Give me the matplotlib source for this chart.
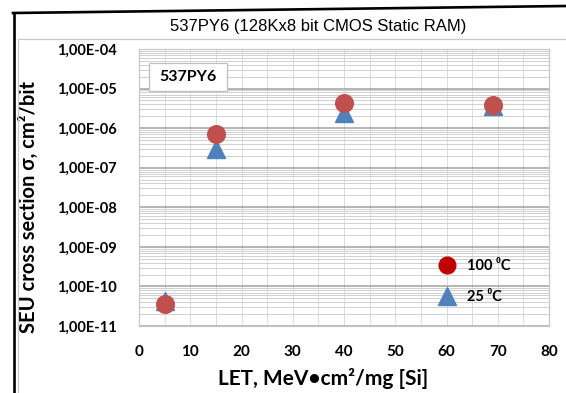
import matplotlib
matplotlib.use('Agg')
import matplotlib.pyplot as plt
import numpy as np
from matplotlib.lines import Line2D
from matplotlib.patches import Rectangle
from matplotlib.ticker import FixedLocator, FuncFormatter, LogLocator, MultipleLocator

plt.rcParams['font.family'] = ['Lato', 'DejaVu Sans']

# data
let = [5, 15, 40, 69]
sigma_100 = [3.5e-11, 7.3e-7, 4.3e-6, 3.9e-6]
sigma_25 = [4.2e-11, 3.0e-7, 2.4e-6, 3.6e-6]
y_decades = [-11, -10, -9, -8, -7, -6, -5, -4]
x_ticks = [0, 10, 20, 30, 40, 50, 60, 70, 80]

W, H = 566, 393
fig = plt.figure(figsize=(W / 100, H / 100), dpi=100)

# scanned frame lines
fig.add_artist(Line2D([14 / W, 14 / W], [1 - 13 / H, 0], color='black', lw=1.9))
fig.add_artist(Line2D([13 / W, 1], [1 - 13 / H, 1 - 6 / H], color='black', lw=1.9))
fig.add_artist(Line2D([17.5 / W, 17.5 / W], [1 - 39 / H, 0], color='#C8C8C8', lw=0.9))
fig.add_artist(Line2D([17.5 / W, 1], [1 - 39 / H, 1 - 39 / H], color='#C8C8C8', lw=0.9))

ax = fig.add_axes([139 / W, 1 - 326 / H, 410 / W, 277 / H])
ax.set_yscale('log')
ax.set_xlim(0, 80)
ax.set_ylim(1e-11, 1e-4)

ax.yaxis.set_major_locator(FixedLocator([10.0 ** d for d in y_decades]))
ax.yaxis.set_minor_locator(LogLocator(base=10, subs=np.arange(2, 10), numticks=20))
ax.yaxis.set_major_formatter(FuncFormatter(lambda v, p: '1,00E-%02d' % round(-np.log10(v))))
ax.yaxis.set_minor_formatter(FuncFormatter(lambda v, p: ''))
ax.xaxis.set_major_locator(FixedLocator(x_ticks))
ax.xaxis.set_minor_locator(MultipleLocator(5))

ax.grid(which='major', axis='y', color='#A0A0A0', lw=1.1)
ax.grid(which='minor', axis='y', color='#D0D0D0', lw=0.7)
ax.grid(which='both', axis='x', color='#DCDCDC', lw=0.7)
ax.set_axisbelow(True)

ax.tick_params(which='both', length=0)
ax.tick_params(axis='y', pad=16, labelsize=10.5)
ax.tick_params(axis='x', pad=14, labelsize=11)
for lab in ax.get_xticklabels() + ax.get_yticklabels():
    lab.set_fontweight('bold')
for s in ax.spines.values():
    s.set_color('#C8C8C8')
    s.set_linewidth(0.9)

ax.plot(let, sigma_25, linestyle='none', marker='^', markersize=13,
        color='#4F81BD', zorder=3)
ax.plot(let, sigma_100, linestyle='none', marker='o', markersize=12.7,
        color='#C0504D', zorder=4)

ax.set_xlabel('LET, MeV•cm²/mg [Si]', fontsize=15, fontweight='bold')
ax.set_ylabel('SEU cross section σ, cm²/bit', fontsize=14.5, fontweight='bold')
ax.xaxis.set_label_coords((323 - 139) / 410, (326 - 368) / 277)
ax.yaxis.set_label_coords((39 - 139) / 410, (326 - 207) / 277)

fig.text(318 / W, 1 - 27 / H, '537PY6 (128Kx8 bit CMOS Static RAM)',
         family='Liberation Sans', fontsize=12, ha='center', va='center')

# label box
ax.add_patch(Rectangle((0.024, 0.850), 0.19, 0.100, transform=ax.transAxes,
                       facecolor='white', edgecolor='#BFBFBF', lw=0.9, zorder=5))
ax.text(0.119, 0.900, '537PY6', transform=ax.transAxes, fontsize=11.5,
        fontweight='bold', ha='center', va='center', zorder=6)

handles = [
    Line2D([], [], linestyle='none', marker='o', markersize=12, color='#C00000'),
    Line2D([], [], linestyle='none', marker='^', markersize=13, color='#4F81BD'),
]
ax.legend(handles, ['100 ⁰C', '25 ⁰C'], loc='center left',
          bbox_to_anchor=(0.698, 0.16), frameon=False, handlelength=1.2,
          handletextpad=0.8, labelspacing=1.15,
          prop={'size': 10.5, 'weight': 'bold'})

fig.savefig('out.png', dpi=100)
